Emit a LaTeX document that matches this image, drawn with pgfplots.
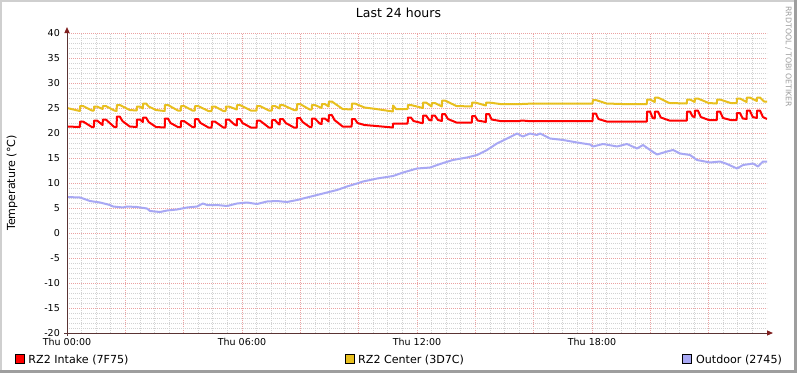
\documentclass[border=0pt]{standalone}
\usepackage{pgfplots}
\pgfplotsset{compat=1.18}
\usepackage{fontspec}
\setmainfont{DejaVu Sans}
\usetikzlibrary{arrows.meta}
\definecolor{intake}{HTML}{FF0000}
\definecolor{center}{HTML}{E8BF1E}
\definecolor{outdoor}{HTML}{A8A8F4}
\definecolor{mingrid}{HTML}{D2D2D2}
\definecolor{majgrid}{HTML}{EBA2A2}
\definecolor{axiscol}{HTML}{5A3434}
\definecolor{arrowcol}{HTML}{802020}
\definecolor{shadea}{HTML}{CFCFCF}
\definecolor{shadeb}{HTML}{9E9E9E}
\begin{document}
\begin{tikzpicture}[x=1bp,y=1bp]
\useasboundingbox (0,0) rectangle (797,373);
\fill[white] (0,0) rectangle (797,373);
\fill[shadea] (0,0) rectangle (2,373);
\fill[shadea] (0,371) rectangle (797,373);
\fill[shadeb] (0,0) rectangle (797,3);
\fill[shadeb] (794,0) rectangle (797,373);
\begin{axis}[
  at={(67bp,40bp)}, anchor=south west,
  width=700bp, height=300bp, scale only axis,
  xmin=0, xmax=24, ymin=-20, ymax=40,
  axis line style={draw=none},
  xtick={0,2,...,22},
  xticklabels={Thu 00:00,,,Thu 06:00,,,Thu 12:00,,,Thu 18:00,,},
  minor xtick={0,0.5,...,23.5},
  ytick={-20,-15,...,40},
  minor ytick={-20,-19,...,40},
  major tick length=0pt, minor tick length=0pt,
  grid=both,
  minor grid style={color=mingrid, dash pattern=on 1bp off 1bp, line width=0.7bp},
  major grid style={color=majgrid, dash pattern=on 1bp off 1bp, line width=0.8bp},
  xticklabel style={anchor=base, yshift=-12bp, inner sep=0pt},
  yticklabel style={anchor=east, xshift=-7bp, inner sep=0pt},
  tick label style={font=\fontsize{9.5bp}{11bp}\selectfont},
  /pgf/number format/assume math mode=true,
]
\addplot[intake, line width=2bp, line join=round] coordinates {
(0,21.3) (0.44,21.2) (0.45,22.3) (0.55,22.3) (0.85,21.2) (0.92,21.2) (0.93,22.5) (1.03,22.5) (1.22,21.6) (1.23,22.7) (1.33,22.7) (1.62,21.2) (1.70,21.2) (1.71,23.3) (1.81,23.3) (1.90,22.4) (2.15,21.3) (2.39,21.2) (2.40,22.7) (2.50,22.7) (2.60,22.2) (2.61,23.1) (2.71,23.1) (2.80,22.2) (3.05,21.2) (3.35,21.1) (3.36,22.9) (3.46,22.9) (3.55,22.0) (3.80,21.2) (3.90,21.2) (3.91,22.4) (4.01,22.4) (4.30,21.2) (4.38,21.2) (4.39,22.8) (4.49,22.8) (4.58,22.0) (4.85,21.1) (4.96,21.1) (4.97,22.3) (5.07,22.3) (5.36,21.1) (5.44,21.1) (5.45,22.7) (5.55,22.7) (5.74,21.7) (5.82,21.5) (5.83,22.8) (5.93,22.8) (6.02,22.0) (6.30,21.1) (6.50,21.1) (6.51,22.5) (6.61,22.5) (6.92,21.1) (7.02,21.1) (7.03,22.6) (7.13,22.6) (7.25,21.8) (7.29,21.7) (7.30,22.8) (7.40,22.8) (7.50,22.0) (7.78,21.1) (7.88,21.1) (7.89,23.0) (7.99,23.0) (8.08,22.2) (8.32,21.2) (8.39,21.2) (8.40,22.9) (8.50,22.9) (8.66,21.9) (8.73,21.8) (8.74,22.9) (8.84,22.9) (8.95,22.4) (8.97,22.3) (8.98,23.6) (9.08,23.6) (9.17,22.6) (9.45,21.3) (9.76,21.3) (9.77,22.8) (9.87,22.8) (9.96,22.0) (10.2,21.6) (10.6,21.4) (11.17,21.1) (11.18,21.9) (11.68,21.9) (11.69,23.1) (11.79,23.1) (11.88,22.4) (12.15,22.0) (12.20,22.0) (12.21,23.5) (12.31,23.5) (12.42,22.6) (12.50,22.5) (12.51,23.5) (12.61,23.5) (12.72,22.6) (12.85,22.4) (12.86,23.8) (12.96,23.8) (13.06,22.8) (13.35,22.1) (13.88,22.1) (13.89,23.4) (13.99,23.4) (14.08,22.5) (14.36,22.2) (14.37,23.8) (14.47,23.8) (14.56,22.7) (14.85,22.4) (15.5,22.4) (15.6,22.5) (15.8,22.4) (18.02,22.4) (18.03,23.9) (18.13,23.9) (18.22,22.8) (18.5,22.3) (19.88,22.3) (19.89,24.3) (19.99,24.3) (20.08,23.0) (20.15,22.9) (20.16,24.3) (20.26,24.3) (20.36,23.1) (20.65,22.5) (21.25,22.5) (21.26,24.3) (21.36,24.3) (21.45,23.3) (21.52,23.2) (21.53,24.5) (21.63,24.5) (21.73,23.2) (22.0,22.6) (22.28,22.6) (22.29,24.3) (22.39,24.3) (22.49,23.0) (22.75,22.6) (22.96,22.6) (22.97,24.0) (23.07,24.0) (23.17,22.9) (23.30,22.8) (23.31,24.5) (23.41,24.5) (23.51,23.2) (23.65,23.0) (23.66,24.5) (23.76,24.5) (23.86,23.2) (24.0,22.8)
};
\addplot[center, line width=2bp, line join=round] coordinates {
(0,25.0) (0.44,24.4) (0.45,25.4) (0.55,25.4) (0.85,24.5) (0.92,24.5) (0.93,25.3) (1.03,25.3) (1.22,24.8) (1.23,25.4) (1.33,25.4) (1.62,24.5) (1.70,24.4) (1.71,25.6) (1.81,25.6) (2.15,24.6) (2.39,24.5) (2.40,25.3) (2.50,25.3) (2.60,24.9) (2.61,25.9) (2.71,25.9) (2.80,25.3) (3.05,24.6) (3.35,24.4) (3.36,25.6) (3.46,25.6) (3.80,24.5) (3.90,24.5) (3.91,25.4) (4.01,25.4) (4.30,24.5) (4.38,24.5) (4.39,25.4) (4.49,25.4) (4.85,24.4) (4.96,24.4) (4.97,25.3) (5.07,25.3) (5.36,24.4) (5.44,24.4) (5.45,25.3) (5.55,25.3) (5.82,24.7) (5.83,25.6) (5.93,25.6) (6.30,24.5) (6.50,24.5) (6.51,25.4) (6.61,25.4) (6.92,24.5) (7.02,24.5) (7.03,25.4) (7.13,25.4) (7.29,24.9) (7.30,25.6) (7.40,25.6) (7.78,24.6) (7.88,24.6) (7.89,25.8) (7.99,25.8) (8.32,24.7) (8.39,24.7) (8.40,25.6) (8.50,25.6) (8.73,25.0) (8.74,25.8) (8.84,25.8) (8.97,25.3) (8.98,26.3) (9.08,26.3) (9.45,24.8) (9.76,24.7) (9.77,25.9) (9.87,25.9) (10.2,25.1) (10.6,24.8) (11.17,24.3) (11.18,25.5) (11.28,24.8) (11.68,24.8) (11.69,25.6) (11.79,25.6) (12.20,25.0) (12.21,26.1) (12.31,26.1) (12.50,25.3) (12.51,26.0) (12.61,26.0) (12.85,25.3) (12.86,26.5) (12.96,26.5) (13.35,25.4) (13.88,25.3) (13.89,26.1) (13.99,26.1) (14.36,25.5) (14.37,26.1) (14.47,26.1) (14.85,25.8) (15.6,25.8) (16.0,25.9) (17.0,25.9) (18.02,25.9) (18.03,26.6) (18.13,26.6) (18.5,25.9) (19.0,25.8) (19.88,25.8) (19.89,26.7) (19.99,26.7) (20.15,26.2) (20.16,27.1) (20.26,27.1) (20.65,26.0) (21.25,25.9) (21.26,26.7) (21.36,26.7) (21.52,26.2) (21.53,26.9) (21.63,26.9) (22.0,26.0) (22.28,25.9) (22.29,26.7) (22.39,26.7) (22.75,26.0) (22.96,26.0) (22.97,26.9) (23.07,26.9) (23.30,26.2) (23.31,27.1) (23.41,27.1) (23.65,26.4) (23.66,27.1) (23.76,27.1) (23.9,26.3) (24.0,26.3)
};
\addplot[outdoor, line width=2bp, line join=round] coordinates {
(0,7.2) (0.45,7.1) (0.79,6.4) (1.13,6.1) (1.47,5.6) (1.58,5.3) (1.92,5.1) (2.06,5.3) (2.40,5.2) (2.74,4.9) (2.85,4.4) (3.19,4.2) (3.43,4.5) (3.77,4.7) (4.11,5.1) (4.46,5.3) (4.66,5.9) (4.80,5.6) (5.14,5.6) (5.49,5.4) (5.83,5.9) (6.17,6.1) (6.51,5.8) (6.86,6.3) (7.20,6.4) (7.54,6.2) (7.89,6.6) (8.23,7.1) (8.57,7.6) (8.91,8.1) (9.26,8.6) (9.60,9.3) (9.94,9.9) (10.15,10.3) (10.63,10.9) (11.18,11.4) (11.52,12.1) (12.00,12.9) (12.45,13.1) (12.79,13.8) (13.23,14.6) (13.71,15.1) (14.06,15.6) (14.40,16.6) (14.74,17.9) (15.09,18.9) (15.43,19.9) (15.63,19.3) (15.87,19.9) (16.11,19.6) (16.22,19.9) (16.56,18.9) (17.01,18.6) (17.49,18.1) (17.93,17.7) (18.03,17.3) (18.38,17.8) (18.86,17.3) (19.20,17.8) (19.54,16.9) (19.75,17.6) (19.99,16.6) (20.23,15.7) (20.57,16.3) (20.78,16.6) (21.02,15.9) (21.36,15.6) (21.60,14.6) (22.05,14.1) (22.39,14.3) (22.63,13.8) (22.97,12.9) (23.18,13.6) (23.42,13.8) (23.52,13.9) (23.69,13.3) (23.86,14.3) (24.0,14.3)
};
\end{axis}
% axes with arrows
\draw[axiscol, line width=1bp, -{Triangle[width=5bp,length=6bp,color=arrowcol]}] (64,40) -- (773,40);
\draw[axiscol, line width=1bp, -{Triangle[width=5bp,length=6bp,color=arrowcol]}] (67,37) -- (67,346);
% title and labels
\node[anchor=base, inner sep=0pt, font=\fontsize{12.5bp}{15bp}\selectfont] at (398.5,355.5) {Last 24 hours};
\node[rotate=90, inner sep=0pt, font=\fontsize{11.1bp}{13bp}\selectfont] at (12,190) {Temperature (°C)};
\node[rotate=-90, inner sep=0pt, text=shadeb, font=\fontsize{7.8bp}{9bp}\selectfont] at (788.5,316.3) {RRDTOOL / TOBI OETIKER};
% legend
\filldraw[fill=intake, draw=black, line width=0.8bp] (15.5,10) rectangle (24.5,19);
\node[anchor=base west, inner sep=0pt, font=\fontsize{11.1bp}{13bp}\selectfont] at (28.3,10) {RZ2 Intake (7F75)};
\filldraw[fill=center, draw=black, line width=0.8bp] (345,10) rectangle (354,19);
\node[anchor=base west, inner sep=0pt, font=\fontsize{11.1bp}{13bp}\selectfont] at (358,10) {RZ2 Center (3D7C)};
\filldraw[fill=outdoor, draw=black, line width=0.8bp] (682.7,10) rectangle (691.7,19);
\node[anchor=base west, inner sep=0pt, font=\fontsize{11.1bp}{13bp}\selectfont] at (696,10) {Outdoor (2745)};
\end{tikzpicture}
\end{document}
